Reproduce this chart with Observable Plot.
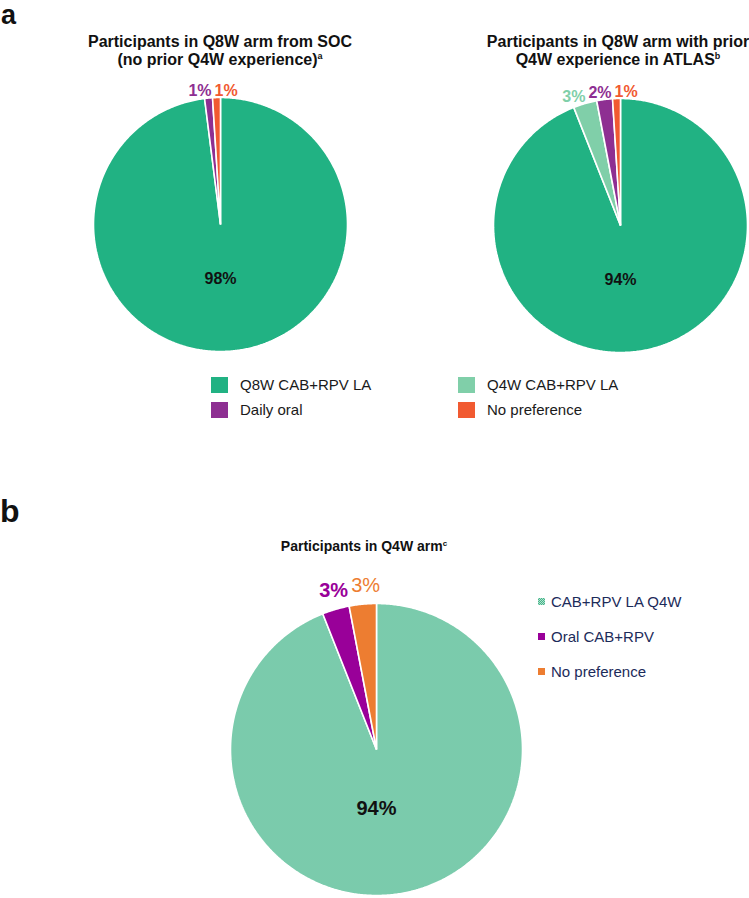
<!DOCTYPE html>
<html><head><meta charset="utf-8">
<script src="https://cdn.jsdelivr.net/npm/d3@7"></script>
<script src="https://cdn.jsdelivr.net/npm/@observablehq/plot@0.6"></script>
<style>
body{margin:0;background:#fff;font-family:"Liberation Sans",Arial,sans-serif;}
#fig{position:relative;width:749px;height:898px;overflow:hidden;background:#fff;}
.abs{position:absolute;white-space:nowrap;}
.sup{font-size:9px;position:relative;top:-6px;}
</style></head><body><div id="fig"></div>
<script>
// ---------- data ----------
const pieA1Title = ["Participants in Q8W arm from SOC", "(no prior Q4W experience)", "a"];
const pieA1Categories = ["Q8W CAB+RPV LA", "Daily oral", "No preference"];
const pieA1Values = [98, 1, 1];

const pieA2Title = ["Participants in Q8W arm with prior", "Q4W experience in ATLAS", "b"];
const pieA2Categories = ["Q8W CAB+RPV LA", "Q4W CAB+RPV LA", "Daily oral", "No preference"];
const pieA2Values = [94, 3, 2, 1];

const legendACategories = ["Q8W CAB+RPV LA", "Q4W CAB+RPV LA", "Daily oral", "No preference"];
const legendAColors = ["#21b283", "#80cfa9", "#8e2f92", "#f15a31"];

const pieBTitle = ["Participants in Q4W arm", "c"];
const pieBCategories = ["CAB+RPV LA Q4W", "Oral CAB+RPV", "No preference"];
const pieBValues = [94, 3, 3];
const pieBColors = ["url(#checkB)", "#990099", "#ed7d31"];

const panelLetters = ["a", "b"];

// ---------- helpers ----------
const FONT = "Liberation Sans, Arial, sans-serif";
const fig = document.getElementById("fig");

function build(cats, vals) {
  const total = d3.sum(vals);
  let acc = 0;
  const pts = [], slices = [];
  cats.forEach((c, i) => {
    const a0 = 2 * Math.PI * acc / total;
    acc += vals[i];
    const a1 = 2 * Math.PI * acc / total;
    slices.push({cat: c, value: vals[i], a0, a1, mid: (a0 + a1) / 2});
    const n = Math.max(2, Math.ceil((a1 - a0) / (Math.PI / 360)));
    pts.push({cat: c, x: 0, y: 0});
    for (let k = 0; k <= n; k++) {
      const a = a0 + (a1 - a0) * k / n;
      pts.push({cat: c, x: Math.sin(a), y: Math.cos(a)});
    }
  });
  return {pts, slices};
}

// label layout: small slices labelled above the pie, dodged so they don't overlap
function outerLabels(slices, r, fontSize) {
  const big = d3.greatest(slices, d => d.value);
  const small = slices.filter(d => d !== big).sort((a, b) => b.a1 - a.a1);
  const out = [];
  let prevLeft = null;
  small.forEach((s, i) => {
    const text = s.value + "%";
    const w = 1.445 * fontSize * text.length / 2;
    let cx;
    if (i === 0) {
      cx = r * Math.sin(s.a0) + 2 + w / 2;
    } else {
      cx = Math.min(r * Math.sin(s.mid), prevLeft - 3 - w / 2);
    }
    prevLeft = cx - w / 2;
    out.push({cat: s.cat, text, x: cx / r, y: Math.cos(s.mid)});
  });
  return {labels: out, big};
}

function drawPie({cats, vals, domain, range, cx, cy, r, m, labelSize, labelDy, centerSize, centerY, lightCats = [], defs}) {
  const {pts, slices} = build(cats, vals);
  const {labels, big} = outerLabels(slices, r, labelSize);
  const size = 2 * r + 2 * m;
  const svg = Plot.plot({
    width: size, height: size,
    margin: m,
    style: {background: "transparent", fontFamily: FONT},
    x: {domain: [-1, 1], axis: null},
    y: {domain: [-1, 1], axis: null},
    color: {domain, range},
    marks: [
      Plot.line(pts, {x: "x", y: "y", z: "cat", fill: "cat", stroke: "white", strokeWidth: 1.6, curve: "linear-closed", strokeLinejoin: "miter"}),
      Plot.text(labels.filter(d => !lightCats.includes(d.cat)), {x: "x", y: "y", text: "text", fill: "cat", fontSize: labelSize, fontWeight: "bold", lineAnchor: "bottom", dy: labelDy, fontFamily: FONT}),
      Plot.text(labels.filter(d => lightCats.includes(d.cat)), {x: "x", y: "y", text: "text", fill: "cat", fontSize: labelSize, fontWeight: "normal", lineAnchor: "bottom", dy: labelDy, fontFamily: FONT}),
      Plot.text([big], {x: () => 0, y: () => -centerY, text: d => d.value + "%", fill: "#111", fontSize: centerSize, fontWeight: "bold", lineAnchor: "middle", fontFamily: FONT})
    ]
  });
  if (defs) defs(svg);
  const wrap = document.createElement("div");
  wrap.className = "abs";
  wrap.style.left = (cx - r - m) + "px";
  wrap.style.top = (cy - r - m) + "px";
  wrap.style.width = size + "px";
  wrap.style.height = size + "px";
  wrap.appendChild(svg);
  fig.appendChild(wrap);
}

function addText(html, {left, top, width, size, weight = "bold", color = "#111", align = "center", lh}) {
  const d = document.createElement("div");
  d.className = "abs";
  d.style.left = left + "px";
  d.style.top = top + "px";
  if (width) d.style.width = width + "px";
  d.style.fontSize = size + "px";
  d.style.fontWeight = weight;
  d.style.color = color;
  d.style.textAlign = align;
  d.style.lineHeight = (lh || size) + "px";
  d.innerHTML = html;
  fig.appendChild(d);
  return d;
}

function swatch(left, top, w, h, bg) {
  const s = document.createElement("div");
  s.className = "abs";
  s.style.left = left + "px"; s.style.top = top + "px";
  s.style.width = w + "px"; s.style.height = h + "px";
  s.style.background = bg;
  fig.appendChild(s);
}

// ---------- panel a ----------
const colorOf = c => legendAColors[legendACategories.indexOf(c)];
drawPie({cats: pieA1Categories, vals: pieA1Values, domain: pieA1Categories, range: pieA1Categories.map(colorOf),
  cx: 220, cy: 224, r: 127, m: 30, labelSize: 16, labelDy: -2, centerSize: 16, centerY: 0.425});
drawPie({cats: pieA2Categories, vals: pieA2Values, domain: pieA2Categories, range: pieA2Categories.map(colorOf),
  cx: 620, cy: 225, r: 127, m: 30, labelSize: 16, labelDy: -2, centerSize: 16, centerY: 0.425});

// ---------- panel b ----------
drawPie({cats: pieBCategories, vals: pieBValues, domain: pieBCategories, range: pieBColors,
  cx: 376, cy: 749, r: 146, m: 40, labelSize: 20, labelDy: -12, centerSize: 20, centerY: 0.405,
  lightCats: ["No preference"],
  defs: svg => {
    const defs = d3.select(svg).insert("defs", ":first-child");
    const p = defs.append("pattern").attr("id", "checkB").attr("width", 2).attr("height", 2).attr("patternUnits", "userSpaceOnUse");
    p.append("rect").attr("width", 2).attr("height", 2).attr("fill", "#b0e1cd");
    p.append("rect").attr("width", 1).attr("height", 1).attr("fill", "#45b58b");
    p.append("rect").attr("x", 1).attr("y", 1).attr("width", 1).attr("height", 1).attr("fill", "#45b58b");
  }});

// ---------- text ----------
addText(panelLetters[0], {left: 1, top: 0, size: 27, align: "left", lh: 31});
addText(panelLetters[1], {left: 0, top: 493, size: 32, align: "left", lh: 36});

addText(`${pieA1Title[0]}<br>${pieA1Title[1]}<span class="sup">${pieA1Title[2]}</span>`, {left: 40, top: 32.5, width: 360, size: 16, lh: 18});
addText(`${pieA2Title[0]}<br>${pieA2Title[1]}<span class="sup">${pieA2Title[2]}</span>`, {left: 438, top: 32.5, width: 360, size: 16, lh: 18});
addText(`${pieBTitle[0]}<span class="sup" style="font-size:8px;top:-5px">${pieBTitle[1]}</span>`, {left: 214, top: 538, width: 300, size: 14, lh: 16});

// legend a (2 columns)
const legAX = [211, 458], legAY = [384.5, 409.5];
legendACategories.forEach((c, i) => {
  const col = i % 2, row = Math.floor(i / 2);
  swatch(legAX[col], legAY[row] - 8, 17, 16, legendAColors[i]);
  addText(c, {left: legAX[col] + 29, top: legAY[row] - 8.5, size: 15, weight: "normal", color: "#1a1a1a", align: "left", lh: 17});
});

// legend b (vertical)
const legBY = [601, 636, 671];
pieBCategories.forEach((c, i) => {
  const bg = i === 0 ? "repeating-conic-gradient(#45b58b 0 25%, #b0e1cd 0 50%) 0 0/2px 2px" : pieBColors[i];
  swatch(538, legBY[i] - 3, 7, 7, bg);
  addText(c, {left: 551, top: legBY[i] - 8.5, size: 15, weight: "normal", color: "#1c2b5a", align: "left", lh: 17});
});
</script></body></html>
